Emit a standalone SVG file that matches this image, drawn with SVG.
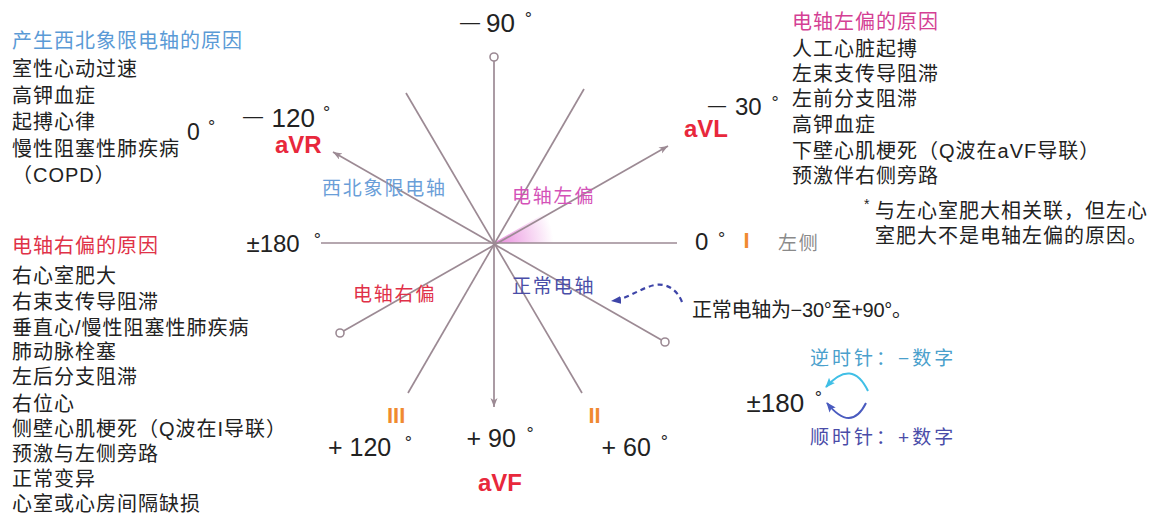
<svg xmlns="http://www.w3.org/2000/svg" width="1156" height="513" viewBox="0 0 1156 513">
<defs>
<style>
text{font-family:'Liberation Sans','Noto Sans CJK SC',sans-serif;}
.cn{font-size:20px;letter-spacing:1px;fill:#222;}
.num{font-size:25px;fill:#222;}
.dash{font-size:20px;fill:#222;}
.deg{font-size:18px;fill:#222;text-anchor:middle;}
.lead{font-size:24px;font-weight:bold;fill:#e8283c;}
.or{font-size:22px;font-weight:bold;fill:#f08a30;}
.q{font-size:19px;letter-spacing:1.8px;}
.ax{stroke:#9c8a94;stroke-width:1.7;fill:none;}
.end{stroke:#9c8a94;stroke-width:1.6;fill:#fff;}
</style>
<marker id="ah" markerUnits="userSpaceOnUse" markerWidth="12" markerHeight="9" refX="9" refY="3.5" orient="auto">
<path d="M0,0 L9,3.5 L0,7 L2.5,3.5 z" fill="#9c8a94"/>
</marker>
<marker id="ahd" markerUnits="userSpaceOnUse" markerWidth="12" markerHeight="10" refX="9" refY="4" orient="auto">
<path d="M0,0 L10,4 L0,8 z" fill="#3e45a8"/>
</marker>
<marker id="ahc" markerUnits="userSpaceOnUse" markerWidth="12" markerHeight="10" refX="9" refY="4" orient="auto">
<path d="M0,0 L10,4 L0,8 L2,4 z" fill="#40bfe6"/>
</marker>
<marker id="ahb" markerUnits="userSpaceOnUse" markerWidth="12" markerHeight="10" refX="9" refY="4" orient="auto">
<path d="M0,0 L10,4 L0,8 L2,4 z" fill="#4a5bbf"/>
</marker>
<radialGradient id="blush" cx="493.5" cy="243" r="60" gradientUnits="userSpaceOnUse">
<stop offset="0" stop-color="#e060d0" stop-opacity="0.75"/>
<stop offset="1" stop-color="#e060d0" stop-opacity="0"/>
</radialGradient>
</defs>
<rect width="1156" height="513" fill="#fff"/>

<path d="M493.5,243 L553.5,243 A60,60 0 0 0 545.5,213 Z" fill="url(#blush)"/>

<g id="connectors">
<line class="ax" x1="321" y1="243" x2="677" y2="243"/>
<line class="ax" x1="494" y1="61" x2="494" y2="407" marker-end="url(#ah)"/>
<line class="ax" x1="661.5" y1="340" x2="333" y2="152" marker-end="url(#ah)"/>
<line class="ax" x1="343.5" y1="331" x2="668" y2="146" marker-end="url(#ah)"/>
<line class="ax" x1="406" y1="93" x2="582" y2="393"/>
<line class="ax" x1="584" y1="89" x2="408" y2="393"/>
<circle class="end" cx="494" cy="57" r="4"/>
<circle class="end" cx="665" cy="342" r="4"/>
<circle class="end" cx="340" cy="333" r="4"/>
<path d="M682,302 C677,289 666,283 655,285 C640,288 628,299 612,301" fill="none" stroke="#3e45a8" stroke-width="2.2" stroke-dasharray="5 4" marker-end="url(#ahd)"/>
<path d="M868,391 Q852,358 826,387" fill="none" stroke="#40bfe6" stroke-width="2" marker-end="url(#ahc)"/>
<path d="M866,403 Q851,433 827,403" fill="none" stroke="#4a5bbf" stroke-width="2" marker-end="url(#ahb)"/>
</g>

<g id="nw-causes">
<text class="cn" x="12" y="48" style="fill:#5a9ad6">产生西北象限电轴的原因</text>
<text class="cn" x="12" y="76">室性心动过速</text>
<text class="cn" x="12" y="102.5">高钾血症</text>
<text class="cn" x="12" y="129">起搏心律</text>
<text class="cn" x="12" y="156">慢性阻塞性肺疾病</text>
<text class="cn" x="12" y="182">（COPD）</text>
</g>

<g id="lad-causes">
<text class="cn" x="792" y="29" style="fill:#d43f94">电轴左偏的原因</text>
<text class="cn" x="792" y="56">人工心脏起搏</text>
<text class="cn" x="792" y="81">左束支传导阻滞</text>
<text class="cn" x="792" y="106">左前分支阻滞</text>
<text class="cn" x="792" y="132">高钾血症</text>
<text class="cn" x="792" y="157.5">下壁心肌梗死（Q波在aVF导联）</text>
<text class="cn" x="792" y="183">预激伴右侧旁路</text>
</g>

<g id="footnote">
<text x="864" y="209" style="font-size:14px;fill:#222">*</text>
<text class="cn" x="875" y="217.5">与左心室肥大相关联，但左心</text>
<text class="cn" x="875" y="242.5">室肥大不是电轴左偏的原因。</text>
</g>

<g id="rad-causes">
<text class="cn" x="12" y="253" style="fill:#e03248">电轴右偏的原因</text>
<text class="cn" x="12" y="282.5">右心室肥大</text>
<text class="cn" x="12" y="308.5">右束支传导阻滞</text>
<text class="cn" x="12" y="335">垂直心/慢性阻塞性肺疾病</text>
<text class="cn" x="12" y="359">肺动脉栓塞</text>
<text class="cn" x="12" y="384">左后分支阻滞</text>
<text class="cn" x="12" y="411">右位心</text>
<text class="cn" x="12" y="436">侧壁心肌梗死（Q波在I导联）</text>
<text class="cn" x="12" y="461">预激与左侧旁路</text>
<text class="cn" x="12" y="486">正常变异</text>
<text class="cn" x="12" y="511">心室或心房间隔缺损</text>
</g>

<g id="lead-aVF-top">
<text class="dash" x="460" y="28.5">—</text>
<text class="num" x="486" y="32.3" style="font-size:26px">90</text>
<text class="deg" x="528.3" y="24.6">°</text>
</g>

<g id="lead-aVR">
<text class="dash" x="243" y="123">—</text>
<text class="num" x="271.5" y="126.7" style="font-size:26px">120</text>
<text class="deg" x="326.7" y="118.6">°</text>
<text class="lead" x="275" y="153">aVR</text>
</g>

<g id="left-zero">
<text class="num" x="187" y="140" style="font-size:23px">0</text>
<text class="deg" x="211.7" y="132.6">°</text>
</g>

<g id="lead-aVL">
<text class="dash" x="708" y="111.3" style="font-size:18px">—</text>
<text class="num" x="735" y="115" style="font-size:24px">30</text>
<text class="deg" x="775" y="108.6">°</text>
<text class="lead" x="684" y="137">aVL</text>
</g>

<g id="lead-I">
<text class="num" x="695" y="250" style="font-size:24px">0</text>
<text class="deg" x="721.7" y="245.3">°</text>
<text class="or" x="743.5" y="248">I</text>
<text class="q" x="778" y="250" style="fill:#8a8a8a">左侧</text>
</g>

<g id="left-180">
<text class="num" x="246.5" y="251.7" style="font-size:24px">±180</text>
<text class="deg" x="317.3" y="246">°</text>
</g>

<g id="lead-III">
<text class="or" x="387" y="423">III</text>
<text class="num" x="328" y="456">+ 120</text>
<text class="deg" x="408.3" y="448.6">°</text>
</g>

<g id="lead-aVF">
<text class="num" x="466.5" y="446.7">+ 90</text>
<text class="deg" x="530" y="439.6">°</text>
<text class="lead" x="478" y="491">aVF</text>
</g>

<g id="lead-II">
<text class="or" x="588.5" y="423">II</text>
<text class="num" x="601.5" y="456">+ 60</text>
<text class="deg" x="664.3" y="447.6">°</text>
</g>

<g id="quadrants">
<text class="q" x="322" y="195" style="fill:#6a9ed8">西北象限电轴</text>
<text class="q" x="512" y="203" style="fill:#d452b8">电轴左偏</text>
<text class="q" x="353" y="301" style="fill:#e03048">电轴右偏</text>
<text class="q" x="512" y="293" style="fill:#4a4ea8">正常电轴</text>
</g>

<g id="normal-note">
<text class="cn" x="692" y="317" textLength="221" lengthAdjust="spacing">正常电轴为−30°至+90°。</text>
</g>

<g id="rotation">
<text class="q" x="810" y="365" style="fill:#4aa0cc" textLength="145" lengthAdjust="spacing">逆时针：−数字</text>
<text class="num" x="746.5" y="411.7" style="font-size:26px">±180</text>
<text class="deg" x="818.3" y="403.6">°</text>
<text class="q" x="810" y="443.5" style="fill:#4a4ca8" textLength="145" lengthAdjust="spacing">顺时针：+数字</text>
</g>
</svg>
